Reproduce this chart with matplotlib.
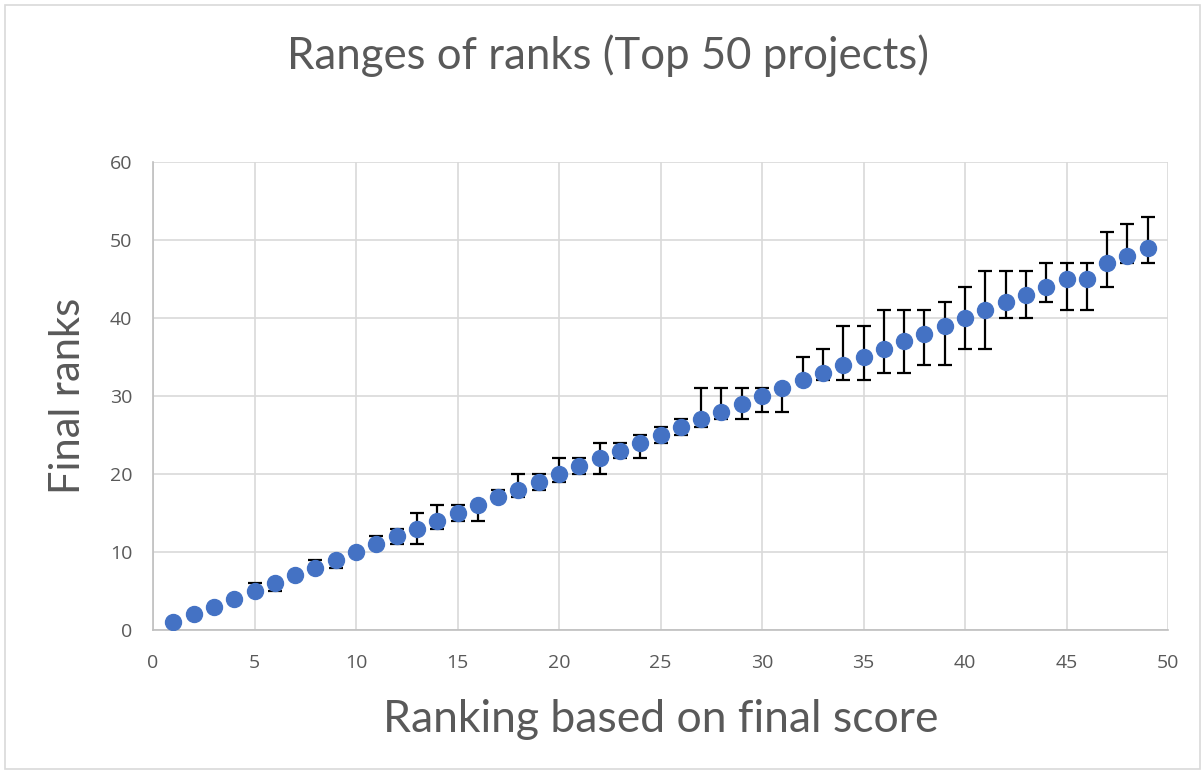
import matplotlib
matplotlib.use("Agg")
import matplotlib.pyplot as plt
from matplotlib.patches import Rectangle

# ranking based on final score
ranking = list(range(1, 50))
# final rank of each project
final_rank = [1, 2, 3, 4, 5, 6, 7, 8, 9, 10,
              11, 12, 13, 14, 15, 16, 17, 18, 19, 20,
              21, 22, 23, 24, 25, 26, 27, 28, 29, 30,
              31, 32, 33, 34, 35, 36, 37, 38, 39, 40,
              41, 42, 43, 44, 45, 45, 47, 48, 49]
# lowest and highest rank reached
rank_min = [1, 2, 3, 4, 5, 5, 7, 8, 8, 10,
            11, 11, 11, 13, 14, 14, 17, 17, 18, 19,
            20, 20, 22, 22, 24, 25, 26, 27, 27, 28,
            28, 32, 32, 32, 32, 33, 33, 34, 34, 36,
            36, 40, 40, 42, 41, 41, 44, 47, 47]
rank_max = [1, 2, 3, 4, 6, 6, 7, 9, 9, 10,
            12, 13, 15, 16, 16, 16, 18, 20, 20, 22,
            22, 24, 24, 25, 26, 27, 31, 31, 31, 31,
            31, 35, 36, 39, 39, 41, 41, 41, 42, 44,
            46, 46, 46, 47, 47, 47, 51, 52, 53]

err_lo = [r - lo for r, lo in zip(final_rank, rank_min)]
err_hi = [hi - r for r, hi in zip(final_rank, rank_max)]

grey = "#595959"
fig = plt.figure(figsize=(12.02, 7.72), dpi=100)
fig.patches.append(Rectangle((0.004, 0.004), 0.994, 0.99, transform=fig.transFigure,
                             fill=False, edgecolor="#d9d9d9", linewidth=1.2))
ax = fig.add_axes([153 / 1202, 1 - 630 / 772, (1168 - 153) / 1202, (630 - 162) / 772])

ax.errorbar(ranking, final_rank, yerr=[err_lo, err_hi], fmt="none",
            ecolor="black", elinewidth=1.6, capsize=4.8, capthick=1.6, zorder=2)
ax.plot(ranking, final_rank, "o", color="#4472C4", markersize=11.5, zorder=3)

ax.set_xlim(0, 50)
ax.set_ylim(0, 60)
ax.set_xticks(range(0, 51, 5))
ax.set_yticks(range(0, 61, 10))
ax.grid(True, color="#d9d9d9", linewidth=1.2)
ax.set_axisbelow(True)
for s in ["top", "right"]:
    ax.spines[s].set_visible(False)
for s in ["left", "bottom"]:
    ax.spines[s].set_color("#bfbfbf")
    ax.spines[s].set_linewidth(1.2)
ax.tick_params(length=0, labelsize=14, labelcolor=grey)
ax.tick_params(axis="x", pad=17)
ax.tick_params(axis="y", pad=15)
for lab in ax.get_xticklabels() + ax.get_yticklabels():
    lab.set_fontfamily("Open Sans")

fig.text(0.506, 0.928, "Ranges of ranks (Top 50 projects)", ha="center", va="center",
         fontsize=31.5, color=grey, family="Lato")
ax.set_xlabel("Ranking based on final score", fontsize=32, color=grey, family="Lato",
              labelpad=20)
ax.set_ylabel("Final ranks", fontsize=30, color=grey, family="Lato", labelpad=16)

fig.savefig("out.png", dpi=100)
